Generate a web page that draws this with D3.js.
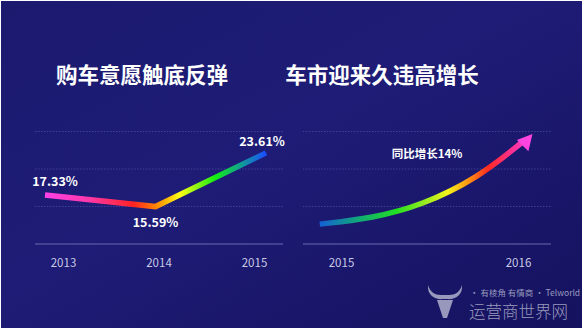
<!DOCTYPE html>
<html>
<head>
<meta charset="utf-8">
<script src="https://cdn.jsdelivr.net/npm/d3@7/dist/d3.min.js"></script>
<style>
  html, body { margin: 0; padding: 0; background: #fff; }
  svg { display: block; }
</style>
</head>
<body>
<svg id="chart" width="585" height="331"></svg>
<script>
// Left panel: share of buyers intending to purchase (%)
const leftTitle = "购车意愿触底反弹";
const leftYears = ["2013", "2014", "2015"];
const leftValues = [17.33, 15.59, 23.61];
const leftGrid = [15.6, 21.2, 26.8];

// Right panel: illustrative growth arrow 2015 → 2016
const rightTitle = "车市迎来久违高增长";
const rightYears = ["2015", "2016"];
const rightNote = "同比增长14%";
const rightCurveX = [2014.88, 2015.18, 2015.46, 2015.77, 2016.02];
const rightCurveY = [0.53, 0.69, 1.04, 1.75, 2.7];
const rightGrid = [1, 2, 3];

const svg = d3.select("#chart");
const defs = svg.append("defs");

// background
const bg = defs.append("linearGradient").attr("id", "bg")
  .attr("x1", 0).attr("y1", 0).attr("x2", 1).attr("y2", 1);
bg.append("stop").attr("offset", 0).attr("stop-color", "#1b1a6f");
bg.append("stop").attr("offset", 0.45).attr("stop-color", "#1e1c76");
bg.append("stop").attr("offset", 1).attr("stop-color", "#15125f");
svg.append("rect").attr("x", 1).attr("y", 1).attr("width", 581).attr("height", 327)
  .attr("fill", "url(#bg)");

const font = "'Noto Sans CJK SC', 'Noto Sans', sans-serif";
const gridColor = "#4a4a9a";
const axisColor = "#6a6ab0";
const labelColor = "#c9c9e6";

// ---------- left panel ----------
const L = { x0: 35, x1: 283, top: 131.5, base: 244 };
const lxAxis = d3.scalePoint().domain(leftYears).range([63, 254]);
const lxLine = d3.scalePoint().domain(leftYears).range([45, 266]);
const ly = d3.scaleLinear().domain([10, 26.8]).range([L.base, L.top]);

const gL = svg.append("g");
gL.selectAll("line.grid").data(leftGrid).join("line")
  .attr("x1", L.x0).attr("x2", L.x1)
  .attr("y1", d => ly(d)).attr("y2", d => ly(d))
  .attr("stroke", gridColor).attr("stroke-width", 0.8).attr("stroke-dasharray", "1.5,1.5");
gL.append("line").attr("x1", L.x0).attr("x2", L.x1)
  .attr("y1", L.base).attr("y2", L.base)
  .attr("stroke", axisColor).attr("stroke-width", 1.2);

gL.append("g").attr("transform", `translate(0,${L.base})`)
  .call(d3.axisBottom(lxAxis).tickSize(0).tickPadding(15))
  .call(g => g.select(".domain").remove())
  .call(g => g.selectAll("text").attr("fill", labelColor)
    .attr("font-family", font).attr("font-size", 11.5));

const lg = defs.append("linearGradient").attr("id", "lgrad")
  .attr("gradientUnits", "userSpaceOnUse")
  .attr("x1", lxLine("2013")).attr("y1", 0).attr("x2", lxLine("2015")).attr("y2", 0);
[[0, "#ff40e6"], [0.2, "#ff38a8"], [0.4, "#ff2222"], [0.51, "#ff8c00"],
 [0.61, "#ffff14"], [0.77, "#12ee12"], [0.88, "#10a48c"], [1, "#1a4cff"]]
  .forEach(([o, c]) => lg.append("stop").attr("offset", o).attr("stop-color", c));

const leftPts = leftYears.map((y, i) => [lxLine(y), ly(leftValues[i])]);
gL.append("path").attr("d", d3.line()(leftPts))
  .attr("fill", "none").attr("stroke", "url(#lgrad)").attr("stroke-width", 5.5)
  .attr("stroke-linejoin", "miter").attr("stroke-linecap", "butt");

const labelOffsets = [[10, -14], [0, 15], [-4, -12]];
gL.selectAll("text.val").data(leftValues).join("text")
  .attr("x", (d, i) => lxLine(leftYears[i]) + labelOffsets[i][0])
  .attr("y", (d, i) => ly(d) + labelOffsets[i][1])
  .attr("text-anchor", "middle").attr("dominant-baseline", "central")
  .attr("fill", "#ffffff").attr("font-family", font).attr("font-weight", 700)
  .attr("font-size", 12.5)
  .text(d => d.toFixed(2) + "%");

svg.append("text").attr("x", 142).attr("y", 73)
  .attr("text-anchor", "middle").attr("dominant-baseline", "central")
  .attr("fill", "#ffffff").attr("font-family", font).attr("font-weight", 700)
  .attr("font-size", 21.5).text(leftTitle);

// ---------- right panel ----------
const R = { x0: 303, x1: 551, top: 131.5, base: 244 };
const rx = d3.scaleLinear().domain([2015, 2016]).range([341, 518]);
const ry = d3.scaleLinear().domain([0, 3]).range([R.base, R.top]);

const gR = svg.append("g");
gR.selectAll("line.grid").data(rightGrid).join("line")
  .attr("x1", R.x0).attr("x2", R.x1)
  .attr("y1", d => ry(d)).attr("y2", d => ry(d))
  .attr("stroke", gridColor).attr("stroke-width", 0.8).attr("stroke-dasharray", "1.5,1.5");
gR.append("line").attr("x1", R.x0).attr("x2", R.x1)
  .attr("y1", R.base).attr("y2", R.base)
  .attr("stroke", axisColor).attr("stroke-width", 1.2);

const rxAxis = d3.scalePoint().domain(rightYears).range([rx(2015), rx(2016)]);
gR.append("g").attr("transform", `translate(0,${R.base})`)
  .call(d3.axisBottom(rxAxis).tickSize(0).tickPadding(15))
  .call(g => g.select(".domain").remove())
  .call(g => g.selectAll("text").attr("fill", labelColor)
    .attr("font-family", font).attr("font-size", 11.5));

const rg = defs.append("linearGradient").attr("id", "rgrad")
  .attr("gradientUnits", "userSpaceOnUse")
  .attr("x1", rx(rightCurveX[0])).attr("y1", 0).attr("x2", 533).attr("y2", 0);
[[0, "#1560d8"], [0.18, "#10a878"], [0.36, "#22e022"], [0.6, "#f4f41c"],
 [0.7, "#ff9012"], [0.79, "#ff2a22"], [0.9, "#ff3090"], [1, "#ff44e0"]]
  .forEach(([o, c]) => rg.append("stop").attr("offset", o).attr("stop-color", c));

const curvePts = rightCurveX.map((x, i) => [rx(x), ry(rightCurveY[i])]);
gR.append("path").attr("d", d3.line().curve(d3.curveBasis)(curvePts))
  .attr("fill", "none").attr("stroke", "url(#rgrad)").attr("stroke-width", 5.5)
  .attr("stroke-linecap", "butt");

// arrow head at the end of the curve
const tail = curvePts[curvePts.length - 1];
const prev = curvePts[curvePts.length - 2];
const ang = Math.atan2(tail[1] - prev[1], tail[0] - prev[0]);
const head = [[14, 0], [-2, -5], [0, 11]];
const rot = ([px, py]) => [tail[0] + px * Math.cos(ang) - py * Math.sin(ang),
                           tail[1] + px * Math.sin(ang) + py * Math.cos(ang)];
gR.append("path").attr("d", "M" + head.map(rot).map(p => p.join(",")).join("L") + "Z")
  .attr("fill", "#ff44e0");

gR.append("text").attr("x", 427).attr("y", 153)
  .attr("text-anchor", "middle").attr("dominant-baseline", "central")
  .attr("fill", "#ffffff").attr("font-family", font).attr("font-weight", 700)
  .attr("font-size", 11.5).text(rightNote);

svg.append("text").attr("x", 382).attr("y", 73)
  .attr("text-anchor", "middle").attr("dominant-baseline", "central")
  .attr("fill", "#ffffff").attr("font-family", font).attr("font-weight", 700)
  .attr("font-size", 21.5).text(rightTitle);

// ---------- brand mark ----------
const wm = svg.append("g").attr("fill", "#aeb0cc").attr("opacity", 0.85);
wm.append("path").attr("d",
  "M428,285 C427,296 436,300 443,299 L447,299 C454,300 463,296 462,285 " +
  "C460,292 455,295 449,295 L441,295 C435,295 430,292 428,285 Z");
wm.append("path").attr("d",
  "M437,300 L453,300 L450,309 L447,318 L443,318 L440,309 Z");
wm.append("text").attr("x", 470).attr("y", 296)
  .attr("font-family", font).attr("font-size", 8.5).text("· 有棱角 有情商 · Telworld");
wm.append("text").attr("x", 469).attr("y", 318)
  .attr("font-family", font).attr("font-weight", 300).attr("font-size", 16.5)
  .text("运营商世界网");
</script>
</body>
</html>
